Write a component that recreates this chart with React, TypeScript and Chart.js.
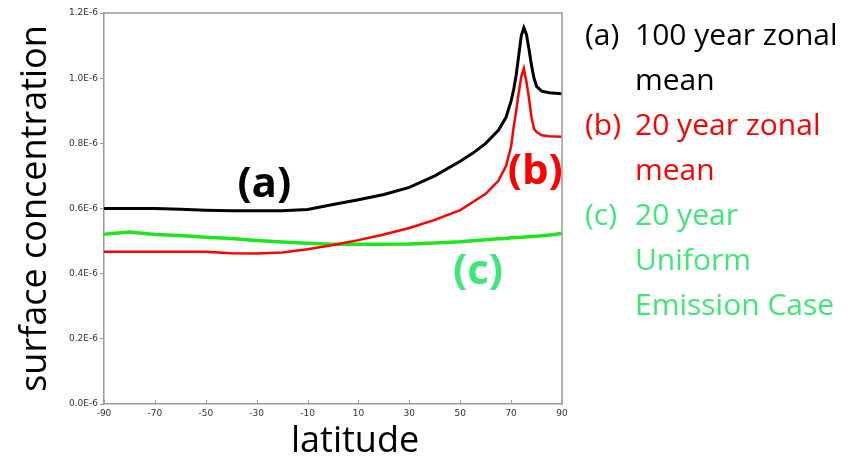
import React, { useEffect, useRef } from 'react';
import { Chart, registerables } from 'chart.js';

Chart.register(...registerables);

// Latitude grid (degrees)
const latitudes = [-90, -80, -70, -60, -50, -40, -30, -20, -10, 0, 10, 20, 30, 40, 50, 55, 60, 65, 68, 70, 71, 72, 73, 74, 75, 76, 77, 78, 79, 80, 82, 85, 90];

// Surface concentration, in units of 1E-6
const zonalMean100yr = [0.600, 0.600, 0.600, 0.598, 0.595, 0.593, 0.593, 0.593, 0.597, 0.612, 0.627, 0.643, 0.665, 0.700, 0.745, 0.770, 0.800, 0.840, 0.880, 0.930, 0.965, 1.010, 1.070, 1.130, 1.155, 1.135, 1.090, 1.040, 1.000, 0.975, 0.960, 0.955, 0.952];
const zonalMean20yr = [0.467, 0.467, 0.467, 0.467, 0.467, 0.463, 0.462, 0.465, 0.475, 0.488, 0.503, 0.520, 0.540, 0.565, 0.595, 0.620, 0.645, 0.685, 0.730, 0.790, 0.850, 0.900, 0.955, 1.005, 1.030, 0.990, 0.940, 0.880, 0.845, 0.835, 0.825, 0.822, 0.820];
const uniformEmission20yr = [0.521, 0.528, 0.520, 0.517, 0.512, 0.508, 0.502, 0.497, 0.493, 0.490, 0.490, 0.490, 0.491, 0.494, 0.498, 0.501, 0.504, 0.507, 0.508, 0.510, 0.510, 0.511, 0.511, 0.512, 0.512, 0.513, 0.513, 0.514, 0.514, 0.515, 0.516, 0.519, 0.523];

const xTickValues = [-90, -70, -50, -30, -10, 10, 30, 50, 70, 90];
const yTickValues = [0, 0.2, 0.4, 0.6, 0.8, 1.0, 1.2];
const yTickLabels = ['0.0E-6', '0.2E-6', '0.4E-6', '0.6E-6', '0.8E-6', '1.0E-6', '1.2E-6'];

const xAxisTitle = 'latitude';
const yAxisTitle = 'surface concentration';

const BLACK = '#000000';
const RED = '#ff0000';
const GREEN_LINE = '#1ee61e';
const GREEN_TEXT = '#3fe67a';

// In-plot labels, anchored at data coordinates (latitude, value)
const labelTexts = ['(a)', '(b)', '(c)'];
const labelLats = [-27, 79.5, 57];
const labelValues = [0.672, 0.712, 0.405];
const labelColors = [BLACK, RED, GREEN_TEXT];

// Legend block on the right
const legendPrefixes = ['(a)', '', '(b)', '', '(c)', '', ''];
const legendBodies = ['100 year zonal', 'mean', '20 year zonal', 'mean', '20 year', 'Uniform', 'Emission Case'];
const legendColors = [BLACK, BLACK, RED, RED, GREEN_TEXT, GREEN_TEXT, GREEN_TEXT];

const toPoints = (vals: number[]) => vals.map((v, i) => ({ x: latitudes[i], y: v }));

const overlayPlugin = {
  id: 'overlay',
  afterDraw(chart: any) {
    const { ctx, chartArea, scales } = chart;
    const xs = scales.x;
    const ys = scales.y;
    ctx.save();
    // frame top & right
    ctx.strokeStyle = '#9a9a9a';
    ctx.lineWidth = 1.5;
    ctx.beginPath();
    ctx.moveTo(chartArea.left, chartArea.top);
    ctx.lineTo(chartArea.right, chartArea.top);
    ctx.lineTo(chartArea.right, chartArea.bottom);
    ctx.stroke();
    // inward x ticks
    ctx.lineWidth = 1;
    ctx.beginPath();
    xTickValues.forEach((v) => {
      const px = Math.round(xs.getPixelForValue(v)) + 0.5;
      ctx.moveTo(px, chartArea.bottom);
      ctx.lineTo(px, chartArea.bottom - 4);
    });
    ctx.stroke();

    // in-plot labels
    ctx.font = 'bold 42px "Open Sans"';
    ctx.textAlign = 'center';
    ctx.textBaseline = 'middle';
    labelTexts.forEach((t, i) => {
      ctx.fillStyle = labelColors[i];
      ctx.fillText(t, xs.getPixelForValue(labelLats[i]), ys.getPixelForValue(labelValues[i]));
    });

    // x axis title
    ctx.font = '36px "Open Sans"';
    ctx.fillStyle = BLACK;
    ctx.textAlign = 'left';
    ctx.textBaseline = 'alphabetic';
    ctx.fillText(xAxisTitle, 291, 452);

    // legend
    ctx.font = '30px "Open Sans"';
    const lineGap = 45;
    legendBodies.forEach((t, i) => {
      const y = 45 + i * lineGap;
      ctx.fillStyle = legendColors[i];
      if (legendPrefixes[i]) ctx.fillText(legendPrefixes[i], 585, y);
      ctx.fillText(t, 635, y);
    });
    ctx.restore();
  },
};

export default function App() {
  const canvasRef = useRef<HTMLCanvasElement | null>(null);

  useEffect(() => {
    if (!canvasRef.current) return;
    const chart = new Chart(canvasRef.current, {
      type: 'line',
      data: {
        datasets: [
          { label: '(a) 100 year zonal mean', data: toPoints(zonalMean100yr), borderColor: BLACK, borderWidth: 3, pointRadius: 0, tension: 0, fill: false },
          { label: '(b) 20 year zonal mean', data: toPoints(zonalMean20yr), borderColor: RED, borderWidth: 2.5, pointRadius: 0, tension: 0, fill: false },
          { label: '(c) 20 year Uniform Emission Case', data: toPoints(uniformEmission20yr), borderColor: GREEN_LINE, borderWidth: 3.5, pointRadius: 0, tension: 0, fill: false },
        ],
      },
      options: {
        responsive: false,
        animation: false,
        devicePixelRatio: 1,
        layout: { padding: { left: 0, right: 303, top: 13, bottom: 0 } },
        plugins: { legend: { display: false }, tooltip: { enabled: false }, title: { display: false } },
        scales: {
          x: {
            type: 'linear',
            min: -90,
            max: 90,
            afterBuildTicks: (axis: any) => { axis.ticks = xTickValues.map((v) => ({ value: v })); },
            afterFit: (s: any) => { s.height = 58; },
            grid: { display: true, drawOnChartArea: false, drawTicks: false },
            border: { display: true, color: '#9a9a9a', width: 1.5 },
            ticks: { padding: 4, color: '#333', font: { family: 'DejaVu Sans', size: 9 }, maxRotation: 0, autoSkip: false },
          },
          y: {
            type: 'linear',
            min: 0,
            max: 1.2,
            afterBuildTicks: (axis: any) => { axis.ticks = yTickValues.map((v) => ({ value: v })); },
            afterFit: (s: any) => { s.width = 104; },
            grid: { display: true, drawOnChartArea: false, drawTicks: true, tickLength: 4, color: '#9a9a9a' },
            border: { display: true, color: '#9a9a9a', width: 1.5 },
            ticks: {
              padding: 2,
              color: '#333',
              font: { family: 'DejaVu Sans', size: 9 },
              autoSkip: false,
              callback: (value: any) => {
                const idx = yTickValues.findIndex((v) => Math.abs(v - Number(value)) < 1e-9);
                return idx >= 0 ? yTickLabels[idx] : '';
              },
            },
            title: {
              display: true,
              text: yAxisTitle,
              color: BLACK,
              font: { family: 'Open Sans', size: 36 },
              padding: { top: 14, bottom: 0 },
            },
          },
        },
      },
      plugins: [overlayPlugin],
    });
    return () => chart.destroy();
  }, []);

  return (
    <div style={{ position: 'fixed', left: 0, top: 0, width: 865, height: 462, background: '#fff' }}>
      <canvas ref={canvasRef} width={865} height={462} />
    </div>
  );
}
